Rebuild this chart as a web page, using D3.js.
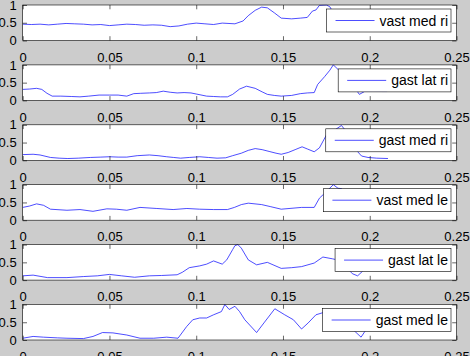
<!DOCTYPE html>
<html>
<head>
<meta charset="utf-8">
<script src="https://cdn.jsdelivr.net/npm/d3@7"></script>
<style>
html,body{margin:0;padding:0;background:#cccccc;}
svg{display:block;}
</style>
</head>
<body>
<svg id="chart" width="470" height="356"></svg>
<script>
// ---- data ----
const seriesNames = ["vast med ri","gast lat ri","gast med ri","vast med le","gast lat le","gast med le"];
const xTicks = [0,0.05,0.1,0.15,0.2,0.25];
const xTickLabels = ["0","0.05","0.1","0.15","0.2","0.25"];
const yTicks = [0,0.5,1];
const yTickLabels = ["0","0.5","1"];

const vastMedRiX = [0,0.005,0.01,0.015,0.02,0.025,0.03,0.035,0.04,0.045,0.05,0.055,0.06,0.065,0.07,0.075,0.08,0.085,0.09,0.095,0.1,0.105,0.11,0.115,0.1223,0.127,0.13,0.134,0.1377,0.141,0.145,0.149,0.155,0.16,0.164,0.167,0.169,0.171,0.175,0.177,0.18,0.185,0.19,0.195,0.2,0.205,0.21];
const vastMedRiY = [0.46,0.45,0.46,0.44,0.46,0.48,0.47,0.46,0.44,0.45,0.42,0.44,0.46,0.45,0.43,0.44,0.43,0.39,0.41,0.46,0.49,0.47,0.45,0.49,0.47,0.55,0.70,0.85,0.94,0.92,0.78,0.63,0.61,0.63,0.65,0.83,0.86,0.99,1.0,0.95,0.7,0.55,0.5,0.48,0.5,0.48,0.5];

const gastLatRiX = [0,0.004,0.008,0.011,0.014,0.017,0.022,0.028,0.033,0.038,0.044,0.05,0.055,0.06,0.064,0.068,0.073,0.077,0.081,0.085,0.089,0.093,0.097,0.1,0.106,0.11,0.114,0.118,0.121,0.125,0.129,0.134,0.138,0.141,0.145,0.149,0.155,0.16,0.164,0.168,0.17,0.174,0.177,0.179,0.182,0.186,0.19,0.194,0.197,0.202,0.207,0.21];
const gastLatRiY = [0.31,0.32,0.34,0.31,0.2,0.12,0.12,0.11,0.1,0.12,0.15,0.15,0.15,0.12,0.19,0.2,0.21,0.22,0.26,0.23,0.21,0.22,0.21,0.18,0.12,0.11,0.10,0.10,0.17,0.32,0.40,0.34,0.24,0.17,0.14,0.12,0.14,0.19,0.21,0.22,0.45,0.67,0.85,1.0,0.86,0.7,0.45,0.17,0.25,0.26,0.25,0.25];

const gastMedRiX = [0,0.006,0.01,0.016,0.021,0.026,0.032,0.039,0.045,0.05,0.055,0.06,0.066,0.073,0.078,0.083,0.087,0.091,0.096,0.102,0.107,0.112,0.117,0.121,0.126,0.13,0.134,0.138,0.142,0.146,0.149,0.153,0.157,0.161,0.164,0.168,0.171,0.175,0.18,0.1837,0.1857,0.188,0.191,0.1953,0.199,0.204,0.2105];
const gastMedRiY = [0.16,0.17,0.15,0.08,0.06,0.05,0.06,0.08,0.09,0.1,0.09,0.09,0.13,0.15,0.13,0.1,0.08,0.06,0.08,0.1,0.08,0.06,0.07,0.13,0.2,0.28,0.33,0.3,0.25,0.2,0.17,0.22,0.3,0.38,0.32,0.24,0.35,0.71,0.86,0.98,0.86,0.6,0.35,0.12,0.08,0.06,0.05];

const vastMedLeX = [0,0.004,0.008,0.012,0.016,0.0255,0.033,0.0405,0.0485,0.054,0.06,0.0676,0.0773,0.0867,0.0946,0.102,0.11,0.118,0.122,0.126,0.13,0.1377,0.143,0.149,0.1607,0.168,0.171,0.174,0.179,0.1817,0.1837,0.19,0.195,0.2,0.205,0.21];
const vastMedLeY = [0.36,0.40,0.46,0.42,0.31,0.28,0.30,0.25,0.32,0.31,0.28,0.36,0.33,0.3,0.33,0.31,0.3,0.30,0.36,0.44,0.48,0.44,0.38,0.31,0.36,0.36,0.62,0.76,1.0,0.9,0.89,0.6,0.45,0.4,0.42,0.4];

const gastLatLeX = [0,0.006,0.0143,0.0255,0.035,0.043,0.05,0.057,0.0645,0.073,0.08,0.089,0.092,0.096,0.102,0.106,0.11,0.115,0.1176,0.121,0.1223,0.124,0.126,0.13,0.1348,0.141,0.149,0.155,0.1607,0.168,0.173,0.1785,0.183,0.1875,0.19,0.193,0.197,0.2,0.205,0.21];
const gastLatLeY = [0.12,0.14,0.07,0.07,0.1,0.12,0.16,0.12,0.08,0.12,0.13,0.15,0.22,0.35,0.40,0.45,0.54,0.45,0.57,0.86,0.97,1.0,0.9,0.57,0.43,0.5,0.33,0.35,0.38,0.48,0.65,0.6,0.55,0.31,0.18,0.12,0.3,0.5,0.55,0.5];

const gastMedLeX = [0,0.006,0.012,0.02,0.0255,0.035,0.0405,0.046,0.052,0.06,0.0676,0.0755,0.083,0.0895,0.0945,0.098,0.102,0.106,0.11,0.1145,0.1165,0.119,0.1223,0.125,0.128,0.1348,0.139,0.1453,0.151,0.156,0.1607,0.1645,0.169,0.175,0.18,0.186,0.1915,0.195,0.198,0.203,0.21];
const gastMedLeY = [0.05,0.1,0.08,0.06,0.05,0.04,0.1,0.21,0.2,0.14,0.05,0.05,0.08,0.05,0.38,0.57,0.62,0.62,0.71,0.8,1.0,0.86,0.95,0.8,0.57,0.21,0.48,0.88,0.71,0.57,0.31,0.48,0.71,0.8,0.6,0.5,0.24,0.08,0.3,0.5,0.45];

const seriesX = [vastMedRiX,gastLatRiX,gastMedRiX,vastMedLeX,gastLatLeX,gastMedLeX];
const seriesY = [vastMedRiY,gastLatRiY,gastMedRiY,vastMedLeY,gastLatLeY,gastMedLeY];

// ---- layout ----
const svg = d3.select("#chart");
const left = 22.7, right = 456.5;
const panelTop0 = 5, pitch = 59.9, panelH = 35.5;
const font = "'Liberation Sans', Arial, Helvetica, sans-serif";
const tickLen = 4.3;

const x = d3.scaleLinear().domain([0,0.25]).range([left,right]);

seriesNames.forEach((name,i)=>{
  const top = panelTop0 + i*pitch;
  const bottom = top + panelH;
  const y = d3.scaleLinear().domain([0,1]).range([bottom,top]);
  const g = svg.append("g");

  g.append("rect").attr("x",left).attr("y",top).attr("width",right-left).attr("height",panelH)
    .attr("fill","#fff");

  const clipId = "clip"+i;
  svg.append("clipPath").attr("id",clipId).append("rect")
    .attr("x",left).attr("y",top-0.5).attr("width",right-left).attr("height",panelH+1);

  const pts = seriesX[i].map((v,k)=>[v,seriesY[i][k]]);
  g.append("path").datum(pts)
    .attr("clip-path","url(#"+clipId+")")
    .attr("fill","none").attr("stroke","#0000ff").attr("stroke-width",0.7)
    .attr("stroke-linejoin","round")
    .attr("d",d3.line().x(d=>x(d[0])).y(d=>y(d[1])));

  const axB = d3.axisBottom(x).tickValues(xTicks).tickSize(-tickLen).tickFormat((d,k)=>xTickLabels[k]).tickPadding(12);
  const axT = d3.axisTop(x).tickValues(xTicks).tickSize(-tickLen).tickFormat("");
  const axL = d3.axisLeft(y).tickValues(yTicks).tickSize(-tickLen).tickFormat((d,k)=>yTickLabels[k]).tickPadding(6);
  const axR = d3.axisRight(y).tickValues(yTicks).tickSize(-tickLen).tickFormat("");

  const styleAx = sel => {
    sel.select(".domain").remove();
    sel.selectAll("line").attr("stroke","#000").attr("stroke-width",0.6);
    sel.selectAll("text").attr("fill","#000").style("font-family",font).style("font-size","13px");
  };
  g.append("g").attr("transform",`translate(0,${bottom})`).call(axB).call(styleAx);
  g.append("g").attr("transform",`translate(0,${top})`).call(axT).call(styleAx);
  g.append("g").attr("transform",`translate(${left},0)`).call(axL).call(styleAx);
  g.append("g").attr("transform",`translate(${right},0)`).call(axR).call(styleAx);

  g.append("rect").attr("x",left).attr("y",top).attr("width",right-left).attr("height",panelH)
    .attr("fill","none").attr("stroke","#000").attr("stroke-width",0.6);

  // legend
  const lg = g.append("g");
  const txt = lg.append("text").text(name)
    .style("font-family",font).style("font-size","14px").attr("fill","#000");
  const tw = txt.node().getComputedTextLength();
  const lgRight = right - 5.5, lgTop = top + 4, lgH = 23;
  const lgW = tw + 56;
  const lgLeft = lgRight - lgW;
  lg.insert("rect","text").attr("x",lgLeft).attr("y",lgTop).attr("width",lgW).attr("height",lgH)
    .attr("fill","#fff").attr("stroke","#000").attr("stroke-width",0.6);
  lg.append("line").attr("x1",lgLeft+9).attr("x2",lgLeft+48).attr("y1",lgTop+lgH/2).attr("y2",lgTop+lgH/2)
    .attr("stroke","#0000ff").attr("stroke-width",0.7);
  txt.attr("x",lgLeft+53).attr("y",lgTop+lgH/2+5);
});
</script>
</body>
</html>
